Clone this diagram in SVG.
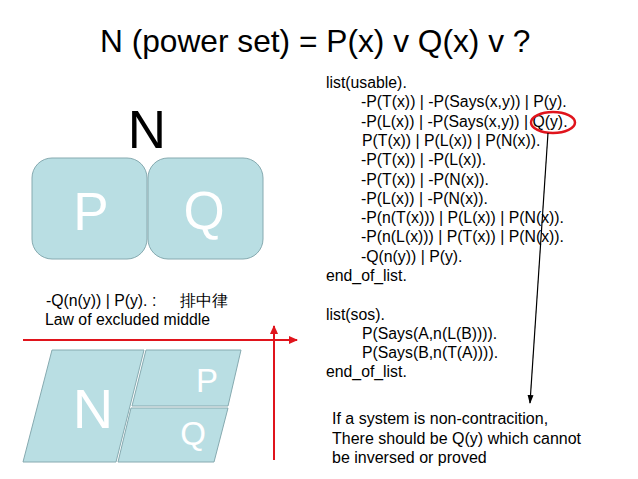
<svg xmlns="http://www.w3.org/2000/svg" width="638" height="479" viewBox="0 0 638 479">
<defs>
<style>
.t{font-family:"Liberation Sans",Arial,sans-serif;fill:#000}
.l{font-size:15.8px}
.b{font-size:16px}
.w{font-family:"Liberation Sans",Arial,sans-serif;fill:#fff;text-anchor:middle}
.box{fill:#b9dee3;stroke:#86aab0;stroke-width:1}
.red{stroke:#e0141c;stroke-width:2;fill:none}
</style>
<marker id="ra" markerWidth="10" markerHeight="10" refX="8" refY="5" orient="auto" markerUnits="userSpaceOnUse">
<path d="M0,1 L9,5 L0,9 Z" fill="#e0141c"/>
</marker>
<marker id="ba" markerWidth="10" markerHeight="10" refX="8" refY="5" orient="auto" markerUnits="userSpaceOnUse">
<path d="M0,2 L9,5 L0,8 Z" fill="#000"/>
</marker>
</defs>
<rect width="638" height="479" fill="#fff"/>
<text class="t" x="100" y="52" font-size="31.7">N (power set) = P(x) v Q(x) v ?</text>

<g id="topN"><text class="t" x="147" y="148" font-size="53" text-anchor="middle">N</text></g>
<g id="boxP"><rect class="box" x="32" y="158" width="115" height="101" rx="20"/><text class="w" x="91" y="230" font-size="53">P</text></g>
<g id="boxQ"><rect class="box" x="148" y="158" width="115" height="101" rx="20"/><text class="w" x="204" y="229" font-size="53">Q</text></g>

<g id="lem">
<text class="t l" x="46" y="306">-Q(n(y)) | P(y). :</text>
<text class="t l" x="180" y="306" font-family="'Noto Sans CJK JP','Noto Sans CJK SC',sans-serif">排中律</text>
<text class="t l" x="45" y="325">Law of excluded middle</text>
</g>

<g id="axes">
<line class="red" x1="23" y1="340" x2="297" y2="340" marker-end="url(#ra)"/>
<line class="red" x1="274" y1="460" x2="274" y2="326" marker-end="url(#ra)"/>
</g>

<g id="paraN"><polygon class="box" points="52,350 144,350 116,462 23,462"/><text class="w" x="93" y="428" font-size="56">N</text></g>
<g id="paraP"><polygon class="box" points="146,350 241,350 228,406 132,406"/><text class="w" x="207" y="392" font-size="33">P</text></g>
<g id="paraQ"><polygon class="box" points="131,408 228,408 214,462 118,462"/><text class="w" x="193" y="445" font-size="33">Q</text></g>

<g id="usable" class="t l">
<text x="326" y="88">list(usable).</text>
<text x="361" y="107.3">-P(T(x)) | -P(Says(x,y)) | P(y).</text>
<text x="361" y="126.6">-P(L(x)) | -P(Says(x,y)) | Q(y).</text>
<text x="362" y="146">P(T(x)) | P(L(x)) | P(N(x)).</text>
<text x="361" y="165.2">-P(T(x)) | -P(L(x)).</text>
<text x="361" y="184.5">-P(T(x)) | -P(N(x)).</text>
<text x="361" y="203.8">-P(L(x)) | -P(N(x)).</text>
<text x="361" y="223.1">-P(n(T(x))) | P(L(x)) | P(N(x)).</text>
<text x="361" y="242.4">-P(n(L(x))) | P(T(x)) | P(N(x)).</text>
<text x="361" y="261.7">-Q(n(y)) | P(y).</text>
<text x="326" y="281">end_of_list.</text>
</g>
<g id="sos" class="t l">
<text x="326" y="319.5">list(sos).</text>
<text x="362" y="338.8">P(Says(A,n(L(B)))).</text>
<text x="362" y="358">P(Says(B,n(T(A)))).</text>
<text x="326" y="377">end_of_list.</text>
</g>

<g id="note" class="t b">
<text x="332" y="424">If a system is non-contracition,</text>
<text x="332" y="444">There should be Q(y) which cannot</text>
<text x="332" y="463">be inversed or proved</text>
</g>

<g id="connectors">
<ellipse cx="553" cy="122.5" rx="22" ry="10.5" fill="none" stroke="#e0141c" stroke-width="2.5"/>
<line x1="548" y1="133" x2="530" y2="403" stroke="#000" stroke-width="1.2" marker-end="url(#ba)"/>
</g>
</svg>
